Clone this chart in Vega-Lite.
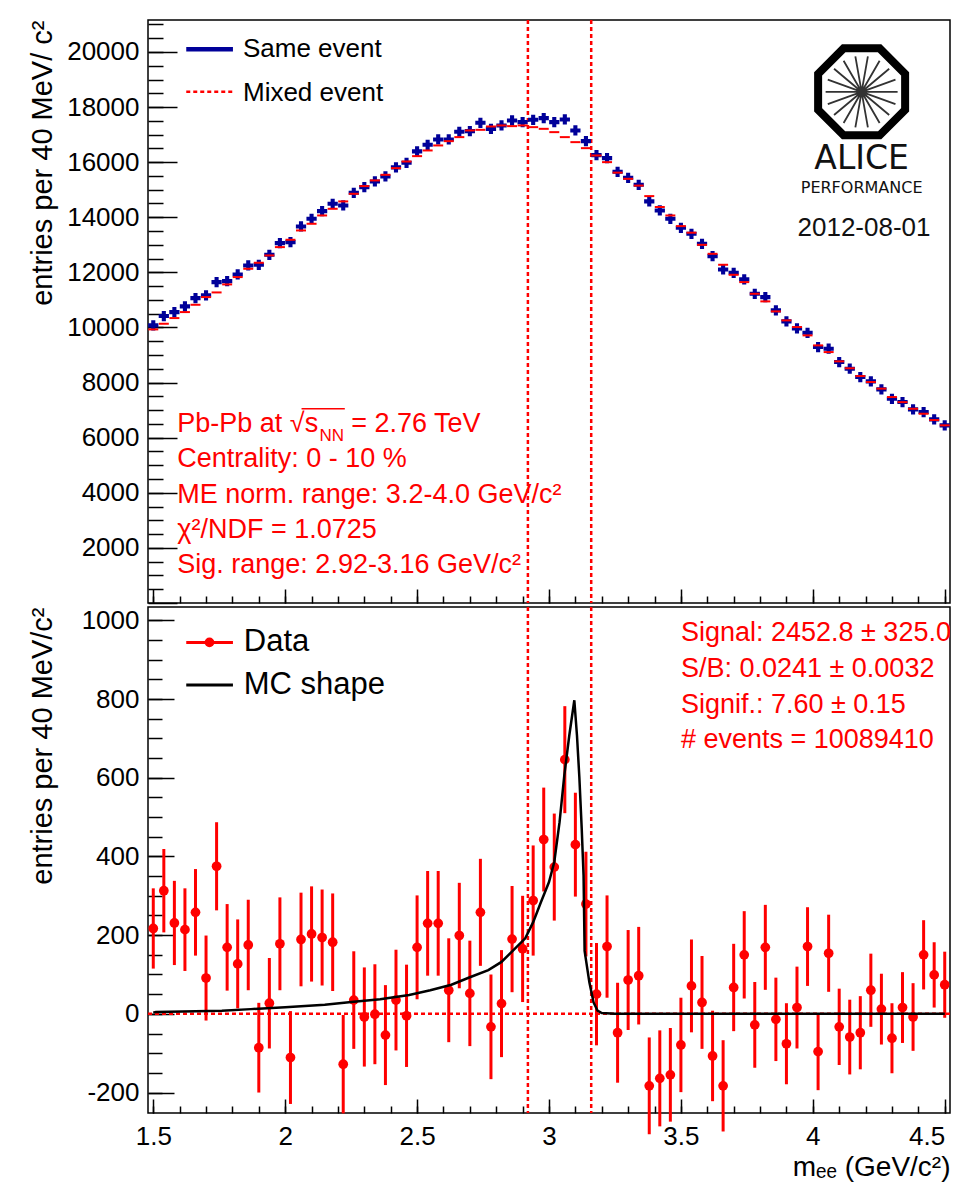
{
  "$schema": "https://vega.github.io/schema/vega-lite/v6.json",
  "background": "white",
  "padding": {"left": 27, "top": 18, "right": 0, "bottom": 4},
  "spacing": 0,
  "config": {
    "font": "Liberation Sans",
    "view": {"stroke": "#000", "strokeWidth": 1.5},
    "axis": {
      "grid": false, "domain": false,
      "labelFont": "Liberation Sans", "labelFontSize": 26, "labelColor": "#000",
      "titleFont": "Liberation Sans", "titleFontWeight": "normal", "titleColor": "#000",
      "tickColor": "#000", "tickWidth": 1.5
    },
    "text": {"font": "Liberation Sans", "fontWeight": "normal"}
  },
  "vconcat": [
    {
      "width": 802,
      "height": 583,
      "data": {"values": [
        {"m":1.50,"s":10075,"mx":9930},{"m":1.54,"s":10414,"mx":10135},{"m":1.58,"s":10559,"mx":10341},{"m":1.62,"s":10765,"mx":10559},
        {"m":1.66,"s":11067,"mx":10824},{"m":1.70,"s":11164,"mx":11103},{"m":1.74,"s":11647,"mx":11272},{"m":1.78,"s":11683,"mx":11563},
        {"m":1.82,"s":11925,"mx":11829},{"m":1.86,"s":12252,"mx":12131},{"m":1.90,"s":12276,"mx":12349},{"m":1.94,"s":12639,"mx":12615},
        {"m":1.98,"s":13062,"mx":12917},{"m":2.02,"s":13099,"mx":13183},{"m":2.06,"s":13667,"mx":13522},{"m":2.10,"s":13945,"mx":13764},
        {"m":2.14,"s":14224,"mx":14066},{"m":2.18,"s":14490,"mx":14308},{"m":2.22,"s":14430,"mx":14576},{"m":2.26,"s":14888,"mx":14852},
        {"m":2.30,"s":15094,"mx":15131},{"m":2.34,"s":15300,"mx":15337},{"m":2.38,"s":15482,"mx":15541},{"m":2.42,"s":15810,"mx":15783},
        {"m":2.46,"s":15977,"mx":16027},{"m":2.50,"s":16390,"mx":16219},{"m":2.54,"s":16630,"mx":16425},{"m":2.58,"s":16825,"mx":16607},
        {"m":2.62,"s":16825,"mx":16763},{"m":2.66,"s":17104,"mx":16909},{"m":2.70,"s":17126,"mx":17151},{"m":2.74,"s":17428,"mx":17174},
        {"m":2.78,"s":17210,"mx":17295},{"m":2.82,"s":17333,"mx":17333},{"m":2.86,"s":17514,"mx":17308},{"m":2.90,"s":17453,"mx":17333},
        {"m":2.94,"s":17537,"mx":17271},{"m":2.98,"s":17598,"mx":17210},{"m":3.02,"s":17453,"mx":17090},{"m":3.06,"s":17550,"mx":16909},
        {"m":3.10,"s":17151,"mx":16727},{"m":3.14,"s":16763,"mx":16509},{"m":3.18,"s":16255,"mx":16243},{"m":3.22,"s":16147,"mx":16001},
        {"m":3.26,"s":15650,"mx":15620},{"m":3.30,"s":15432,"mx":15396},{"m":3.34,"s":15178,"mx":15150},{"m":3.38,"s":14576,"mx":14768},
        {"m":3.42,"s":14248,"mx":14369},{"m":3.46,"s":13945,"mx":14066},{"m":3.50,"s":13618,"mx":13679},{"m":3.54,"s":13400,"mx":13440},
        {"m":3.58,"s":13038,"mx":13000},{"m":3.62,"s":12591,"mx":12674},{"m":3.66,"s":12107,"mx":12276},{"m":3.70,"s":11985,"mx":11912},
        {"m":3.74,"s":11745,"mx":11647},{"m":3.78,"s":11223,"mx":11223},{"m":3.82,"s":11103,"mx":10947},{"m":3.86,"s":10620,"mx":10584},
        {"m":3.90,"s":10221,"mx":10257},{"m":3.94,"s":9965,"mx":10015},{"m":3.98,"s":9808,"mx":9713},{"m":4.02,"s":9289,"mx":9350},
        {"m":4.06,"s":9229,"mx":9107},{"m":4.10,"s":8745,"mx":8770},{"m":4.14,"s":8503,"mx":8520},{"m":4.18,"s":8200,"mx":8237},
        {"m":4.22,"s":8044,"mx":8020},{"m":4.26,"s":7754,"mx":7780},{"m":4.30,"s":7413,"mx":7475},{"m":4.34,"s":7293,"mx":7290},
        {"m":4.38,"s":7028,"mx":7050},{"m":4.42,"s":6930,"mx":6869},{"m":4.46,"s":6665,"mx":6640},{"m":4.50,"s":6448,"mx":6448}
      ]},
      "resolve": {"axis": {"x": "independent", "y": "independent"}},
      "layer": [
        {
          "data": {"values": [{}]},
          "mark": {"type": "rule", "color": "#ff0000", "strokeWidth": 2.5, "strokeDash": [4, 3]},
          "encoding": {"x": {"datum": 2.92, "type": "quantitative", "scale": {"domain": [1.48, 4.52], "nice": false, "zero": false}, "axis": null}}
        },
        {
          "data": {"values": [{}]},
          "mark": {"type": "rule", "color": "#ff0000", "strokeWidth": 2.5, "strokeDash": [4, 3]},
          "encoding": {"x": {"datum": 3.16, "type": "quantitative", "axis": null}}
        },
        {
          "mark": {"type": "point", "shape": "cross", "filled": true, "size": 105, "color": "#000099", "opacity": 1},
          "encoding": {
            "x": {"field": "m", "type": "quantitative", "scale": {"domain": [1.48, 4.52], "nice": false, "zero": false},
                  "axis": {"orient": "bottom", "values": [1.5,2,2.5,3,3.5,4,4.5], "labels": false, "tickSize": -14, "title": null, "minExtent": 0, "maxExtent": 0}},
            "y": {"field": "s", "type": "quantitative", "scale": {"domain": [0, 21160], "nice": false, "zero": false},
                  "axis": {"orient": "left", "values": [2000,4000,6000,8000,10000,12000,14000,16000,18000,20000], "ticks": false, "labelPadding": 9,
                           "labelExpr": "'' + datum.value", "title": "entries per 40 MeV/ c²", "titleFontSize": 29, "titleAnchor": "end",
                           "titlePadding": 10, "minExtent": 81, "maxExtent": 81}}
          }
        },
        {
          "mark": {"type": "tick", "orient": "horizontal", "size": 10, "thickness": 2, "color": "#ff0000", "opacity": 1},
          "encoding": {
            "x": {"field": "m", "type": "quantitative",
                  "axis": {"orient": "bottom", "values": [1.5,1.6,1.7,1.8,1.9,2,2.1,2.2,2.3,2.4,2.5,2.6,2.7,2.8,2.9,3,3.1,3.2,3.3,3.4,3.5,3.6,3.7,3.8,3.9,4,4.1,4.2,4.3,4.4,4.5], "labels": false, "tickSize": -7, "title": null, "minExtent": 0, "maxExtent": 0}},
            "y": {"field": "mx", "type": "quantitative",
                  "axis": {"orient": "left", "values": [0,2000,4000,6000,8000,10000,12000,14000,16000,18000,20000], "labels": false, "tickSize": -29, "title": null, "minExtent": 0, "maxExtent": 0}}
          }
        },
        {
          "data": {"values": [{}]},
          "mark": {"type": "rule", "color": "#000099", "strokeWidth": 4.5},
          "encoding": {"x": {"datum": 1.625, "type": "quantitative", "axis": null}, "x2": {"datum": 1.802}, "y": {"datum": 20100, "type": "quantitative", "axis": null}}
        },
        {
          "data": {"values": [{}]},
          "mark": {"type": "text", "text": "Same event", "align": "left", "baseline": "middle", "fontSize": 26, "color": "#000"},
          "encoding": {"x": {"datum": 1.84, "type": "quantitative", "axis": null}, "y": {"datum": 20113, "type": "quantitative", "axis": null}}
        },
        {
          "data": {"values": [{}]},
          "mark": {"type": "rule", "color": "#ff0000", "strokeWidth": 2.5, "strokeDash": [4, 3]},
          "encoding": {"x": {"datum": 1.625, "type": "quantitative", "axis": null}, "x2": {"datum": 1.802}, "y": {"datum": 18560, "type": "quantitative", "axis": null}}
        },
        {
          "data": {"values": [{}]},
          "mark": {"type": "text", "text": "Mixed event", "align": "left", "baseline": "middle", "fontSize": 26, "color": "#000"},
          "encoding": {"x": {"datum": 1.84, "type": "quantitative", "axis": null}, "y": {"datum": 18523, "type": "quantitative", "axis": null}}
        },
        {
          "data": {"values": [{}]},
          "mark": {"type": "text", "text": "Pb-Pb at √s", "align": "left", "baseline": "middle", "fontSize": 27, "color": "#ff0000"},
          "encoding": {"x": {"datum": 1.591, "type": "quantitative", "axis": null},
                       "y": {"datum": 6495, "type": "quantitative",
                             "axis": {"orient": "left", "values": [500,1000,1500,2000,2500,3000,3500,4000,4500,5000,5500,6000,6500,7000,7500,8000,8500,9000,9500,10000,10500,11000,11500,12000,12500,13000,13500,14000,14500,15000,15500,16000,16500,17000,17500,18000,18500,19000,19500,20000,20500,21000], "labels": false, "tickSize": -15, "title": null, "minExtent": 0, "maxExtent": 0}}}
        },
        {
          "data": {"values": [{}]},
          "mark": {"type": "rule", "color": "#ff0000", "strokeWidth": 1.5},
          "encoding": {"x": {"datum": 2.062, "type": "quantitative", "axis": null}, "x2": {"datum": 2.226}, "y": {"datum": 7050, "type": "quantitative", "axis": null}}
        },
        {
          "data": {"values": [{}]},
          "mark": {"type": "text", "text": "NN", "align": "left", "baseline": "middle", "fontSize": 17, "color": "#ff0000"},
          "encoding": {"x": {"datum": 2.13, "type": "quantitative", "axis": null}, "y": {"datum": 6060, "type": "quantitative", "axis": null}}
        },
        {
          "data": {"values": [{}]},
          "mark": {"type": "text", "text": "= 2.76 TeV", "align": "left", "baseline": "middle", "fontSize": 27, "color": "#ff0000"},
          "encoding": {"x": {"datum": 2.25, "type": "quantitative", "axis": null}, "y": {"datum": 6495, "type": "quantitative", "axis": null}}
        },
        {
          "data": {"values": [{}]},
          "mark": {"type": "text", "text": "Centrality: 0 - 10 %", "align": "left", "baseline": "middle", "fontSize": 27, "color": "#ff0000"},
          "encoding": {"x": {"datum": 1.591, "type": "quantitative", "axis": null}, "y": {"datum": 5225, "type": "quantitative", "axis": null}}
        },
        {
          "data": {"values": [{}]},
          "mark": {"type": "text", "text": "ME norm. range: 3.2-4.0 GeV/c²", "align": "left", "baseline": "middle", "fontSize": 27, "color": "#ff0000"},
          "encoding": {"x": {"datum": 1.591, "type": "quantitative", "axis": null}, "y": {"datum": 3919, "type": "quantitative", "axis": null}}
        },
        {
          "data": {"values": [{}]},
          "mark": {"type": "text", "text": "χ²/NDF = 1.0725", "align": "left", "baseline": "middle", "fontSize": 27, "color": "#ff0000"},
          "encoding": {"x": {"datum": 1.591, "type": "quantitative", "axis": null}, "y": {"datum": 2667, "type": "quantitative", "axis": null}}
        },
        {
          "data": {"values": [{}]},
          "mark": {"type": "text", "text": "Sig. range: 2.92-3.16 GeV/c²", "align": "left", "baseline": "middle", "fontSize": 27, "color": "#ff0000"},
          "encoding": {"x": {"datum": 1.591, "type": "quantitative", "axis": null}, "y": {"datum": 1379, "type": "quantitative", "axis": null}}
        },
        {
          "data": {"values": [{}]},
          "mark": {"type": "point", "shape": "M-0.414,-1L0.414,-1L1,-0.414L1,0.414L0.414,1L-0.414,1L-1,0.414L-1,-0.414Z", "size": 7569, "filled": false, "stroke": "#000", "strokeWidth": 8, "opacity": 1},
          "encoding": {"x": {"datum": 4.185, "type": "quantitative", "axis": null}, "y": {"datum": 18552, "type": "quantitative", "axis": null}}
        },
        {
          "data": {"values": [{}]},
          "mark": {"type": "point", "shape": "M1,0L-1,0M0.94,0.342L-0.94,-0.342M0.766,0.643L-0.766,-0.643M0.5,0.866L-0.5,-0.866M0.174,0.985L-0.174,-0.985M-0.174,0.985L0.174,-0.985M-0.5,0.866L0.5,-0.866M-0.766,0.643L0.766,-0.643M-0.94,0.342L0.94,-0.342", "size": 5184, "filled": false, "stroke": "#333", "strokeWidth": 1.8, "opacity": 1},
          "encoding": {"x": {"datum": 4.185, "type": "quantitative", "axis": null}, "y": {"datum": 18552, "type": "quantitative", "axis": null}}
        },
        {
          "data": {"values": [{}]},
          "mark": {"type": "text", "text": "ALICE", "align": "center", "baseline": "middle", "font": "DejaVu Sans", "fontSize": 33, "color": "#111"},
          "encoding": {"x": {"datum": 4.185, "type": "quantitative", "axis": null}, "y": {"datum": 16122, "type": "quantitative", "axis": null}}
        },
        {
          "data": {"values": [{}]},
          "mark": {"type": "text", "text": "PERFORMANCE", "align": "center", "baseline": "middle", "font": "DejaVu Sans", "fontSize": 16, "color": "#111"},
          "encoding": {"x": {"datum": 4.185, "type": "quantitative", "axis": null}, "y": {"datum": 15058, "type": "quantitative", "axis": null}}
        },
        {
          "data": {"values": [{}]},
          "mark": {"type": "text", "text": "2012-08-01", "align": "center", "baseline": "middle", "fontSize": 26, "color": "#111"},
          "encoding": {"x": {"datum": 4.194, "type": "quantitative", "axis": null}, "y": {"datum": 13625, "type": "quantitative", "axis": null}}
        }
      ]
    },
    {
      "width": 802,
      "height": 506,
      "data": {"values": [
        {"m":1.50,"sig":217,"err":102},{"m":1.54,"sig":313,"err":106},{"m":1.58,"sig":231,"err":107},{"m":1.62,"sig":214,"err":105},
        {"m":1.66,"sig":258,"err":110},{"m":1.70,"sig":91,"err":108},{"m":1.74,"sig":375,"err":112},{"m":1.78,"sig":169,"err":110},
        {"m":1.82,"sig":127,"err":113},{"m":1.86,"sig":175,"err":115},{"m":1.90,"sig":-86,"err":114},{"m":1.94,"sig":27,"err":115},
        {"m":1.98,"sig":178,"err":118},{"m":2.02,"sig":-111,"err":118},{"m":2.06,"sig":189,"err":119},{"m":2.10,"sig":203,"err":121},
        {"m":2.14,"sig":194,"err":122},{"m":2.18,"sig":182,"err":124},{"m":2.22,"sig":-128,"err":125},{"m":2.26,"sig":35,"err":124},
        {"m":2.30,"sig":-8,"err":126},{"m":2.34,"sig":-1,"err":127},{"m":2.38,"sig":-54,"err":127},{"m":2.42,"sig":35,"err":128},
        {"m":2.46,"sig":-5,"err":130},{"m":2.50,"sig":169,"err":132},{"m":2.54,"sig":230,"err":133},{"m":2.58,"sig":230,"err":133},
        {"m":2.62,"sig":60,"err":132},{"m":2.66,"sig":199,"err":134},{"m":2.70,"sig":52,"err":134},{"m":2.74,"sig":258,"err":136},
        {"m":2.78,"sig":-33,"err":133},{"m":2.82,"sig":26,"err":136},{"m":2.86,"sig":190,"err":135},{"m":2.90,"sig":165,"err":135},
        {"m":2.94,"sig":288,"err":140},{"m":2.98,"sig":443,"err":132},{"m":3.02,"sig":373,"err":136},{"m":3.06,"sig":646,"err":136},
        {"m":3.10,"sig":430,"err":132},{"m":3.14,"sig":279,"err":133},{"m":3.18,"sig":50,"err":130},{"m":3.22,"sig":171,"err":130},
        {"m":3.26,"sig":-48,"err":127},{"m":3.30,"sig":86,"err":127},{"m":3.34,"sig":97,"err":124},{"m":3.38,"sig":-183,"err":123},
        {"m":3.42,"sig":-164,"err":122},{"m":3.46,"sig":-155,"err":119},{"m":3.50,"sig":-79,"err":120},{"m":3.54,"sig":71,"err":118},
        {"m":3.58,"sig":29,"err":118},{"m":3.62,"sig":-107,"err":115},{"m":3.66,"sig":-183,"err":116},{"m":3.70,"sig":67,"err":111},
        {"m":3.74,"sig":150,"err":111},{"m":3.78,"sig":-28,"err":109},{"m":3.82,"sig":169,"err":108},{"m":3.86,"sig":-14,"err":106},
        {"m":3.90,"sig":-76,"err":103},{"m":3.94,"sig":16,"err":104},{"m":3.98,"sig":171,"err":100},{"m":4.02,"sig":-96,"err":98},
        {"m":4.06,"sig":154,"err":98},{"m":4.10,"sig":-33,"err":97},{"m":4.14,"sig":-59,"err":95},{"m":4.18,"sig":-48,"err":93},
        {"m":4.22,"sig":60,"err":93},{"m":4.26,"sig":12,"err":90},{"m":4.30,"sig":-62,"err":89},{"m":4.34,"sig":16,"err":90},
        {"m":4.38,"sig":-8,"err":86},{"m":4.42,"sig":150,"err":88},{"m":4.46,"sig":99,"err":83},{"m":4.50,"sig":74,"err":84}
      ]},
      "resolve": {"axis": {"x": "independent", "y": "independent"}},
      "layer": [
        {
          "data": {"values": [{}]},
          "mark": {"type": "rule", "color": "#ff0000", "strokeWidth": 2.5, "strokeDash": [4, 3]},
          "encoding": {"y": {"datum": 0, "type": "quantitative", "scale": {"domain": [-252, 1034], "nice": false, "zero": false},
                             "axis": {"orient": "left", "values": [-200,-150,-100,-50,0,50,100,150,200,250,300,350,400,450,500,550,600,650,700,750,800,850,900,950,1000], "labels": false, "tickSize": -14, "title": null, "minExtent": 0, "maxExtent": 0}}}
        },
        {
          "data": {"values": [{}]},
          "mark": {"type": "rule", "color": "#ff0000", "strokeWidth": 2.5, "strokeDash": [4, 3]},
          "encoding": {"x": {"datum": 2.92, "type": "quantitative", "scale": {"domain": [1.48, 4.52], "nice": false, "zero": false},
                             "axis": {"orient": "bottom", "values": [1.5,1.6,1.7,1.8,1.9,2,2.1,2.2,2.3,2.4,2.5,2.6,2.7,2.8,2.9,3,3.1,3.2,3.3,3.4,3.5,3.6,3.7,3.8,3.9,4,4.1,4.2,4.3,4.4,4.5], "labels": false, "tickSize": -7, "title": null, "minExtent": 0, "maxExtent": 0}}}
        },
        {
          "data": {"values": [{}]},
          "mark": {"type": "rule", "color": "#ff0000", "strokeWidth": 2.5, "strokeDash": [4, 3]},
          "encoding": {"x": {"datum": 3.16, "type": "quantitative", "axis": null}}
        },
        {
          "mark": {"type": "errorbar", "color": "#ff0000", "thickness": 3},
          "encoding": {
            "x": {"field": "m", "type": "quantitative", "axis": null},
            "y": {"field": "sig", "type": "quantitative", "axis": null},
            "yError": {"field": "err"}
          }
        },
        {
          "mark": {"type": "circle", "color": "#ff0000", "size": 95, "opacity": 1},
          "encoding": {
            "x": {"field": "m", "type": "quantitative", "scale": {"domain": [1.48, 4.52], "nice": false, "zero": false},
                  "axis": {"orient": "bottom", "values": [1.5,2,2.5,3,3.5,4,4.5], "ticks": false, "labelPadding": 10, "labelFlush": false,
                           "labelExpr": "'' + datum.value",
                           "labelAlign": {"condition": {"test": "datum.value > 4.4", "value": "right"}, "value": "center"},
                           "title": "mₑₑ (GeV/c²)", "titleFontSize": 28, "titleAnchor": "end", "titlePadding": 4}},
            "y": {"field": "sig", "type": "quantitative", "scale": {"domain": [-252, 1034], "nice": false, "zero": false},
                  "axis": {"orient": "left", "values": [-200,0,200,400,600,800,1000], "ticks": false, "labelPadding": 9,
                           "labelExpr": "'' + datum.value", "title": "entries per 40 MeV/c²", "titleFontSize": 29, "titleAnchor": "end",
                           "titlePadding": 10, "minExtent": 81, "maxExtent": 81}}
          }
        },
        {
          "data": {"values": [
            {"m":1.50,"mc":3},{"m":1.51,"mc":5},{"m":1.76,"mc":8},{"m":1.87,"mc":12},{"m":2.00,"mc":17},{"m":2.15,"mc":23},
            {"m":2.26,"mc":31},{"m":2.36,"mc":37},{"m":2.47,"mc":48},{"m":2.55,"mc":60},{"m":2.63,"mc":74},{"m":2.70,"mc":93},
            {"m":2.77,"mc":111},{"m":2.82,"mc":132},{"m":2.87,"mc":165},{"m":2.91,"mc":192},{"m":2.94,"mc":233},{"m":2.97,"mc":285},
            {"m":3.00,"mc":335},{"m":3.02,"mc":386},{"m":3.04,"mc":487},{"m":3.058,"mc":606},{"m":3.077,"mc":708},{"m":3.096,"mc":797},
            {"m":3.106,"mc":708},{"m":3.115,"mc":602},{"m":3.124,"mc":471},{"m":3.131,"mc":352},{"m":3.135,"mc":160},{"m":3.153,"mc":80},
            {"m":3.169,"mc":29},{"m":3.184,"mc":8},{"m":3.20,"mc":2},{"m":3.25,"mc":0},{"m":4.50,"mc":0}
          ]},
          "mark": {"type": "line", "color": "#000", "strokeWidth": 2.5},
          "encoding": {
            "x": {"field": "m", "type": "quantitative",
                  "axis": {"orient": "bottom", "values": [1.5,2,2.5,3,3.5,4,4.5], "labels": false, "tickSize": -14, "title": null, "minExtent": 0, "maxExtent": 0}},
            "y": {"field": "mc", "type": "quantitative",
                  "axis": {"orient": "left", "values": [-200,0,200,400,600,800,1000], "labels": false, "tickSize": -26, "title": null, "minExtent": 0, "maxExtent": 0}}
          }
        },
        {
          "data": {"values": [{}]},
          "mark": {"type": "rule", "color": "#ff0000", "strokeWidth": 3},
          "encoding": {"x": {"datum": 1.625, "type": "quantitative", "axis": null}, "x2": {"datum": 1.802}, "y": {"datum": 944, "type": "quantitative", "axis": null}}
        },
        {
          "data": {"values": [{}]},
          "mark": {"type": "circle", "color": "#ff0000", "size": 95, "opacity": 1},
          "encoding": {"x": {"datum": 1.713, "type": "quantitative", "axis": null}, "y": {"datum": 944, "type": "quantitative", "axis": null}}
        },
        {
          "data": {"values": [{}]},
          "mark": {"type": "text", "text": "Data", "align": "left", "baseline": "middle", "fontSize": 31, "color": "#000"},
          "encoding": {"x": {"datum": 1.843, "type": "quantitative", "axis": null}, "y": {"datum": 946, "type": "quantitative", "axis": null}}
        },
        {
          "data": {"values": [{}]},
          "mark": {"type": "rule", "color": "#000", "strokeWidth": 3},
          "encoding": {"x": {"datum": 1.625, "type": "quantitative", "axis": null}, "x2": {"datum": 1.802}, "y": {"datum": 836, "type": "quantitative", "axis": null}}
        },
        {
          "data": {"values": [{}]},
          "mark": {"type": "text", "text": "MC shape", "align": "left", "baseline": "middle", "fontSize": 31, "color": "#000"},
          "encoding": {"x": {"datum": 1.843, "type": "quantitative", "axis": null}, "y": {"datum": 836, "type": "quantitative", "axis": null}}
        },
        {
          "data": {"values": [{}]},
          "mark": {"type": "text", "text": "Signal: 2452.8 ± 325.0", "align": "left", "baseline": "middle", "fontSize": 27, "color": "#ff0000", "clip": true},
          "encoding": {"x": {"datum": 3.5, "type": "quantitative", "axis": null}, "y": {"datum": 968, "type": "quantitative", "axis": null}}
        },
        {
          "data": {"values": [{}]},
          "mark": {"type": "text", "text": "S/B: 0.0241 ± 0.0032", "align": "left", "baseline": "middle", "fontSize": 27, "color": "#ff0000"},
          "encoding": {"x": {"datum": 3.5, "type": "quantitative", "axis": null}, "y": {"datum": 877, "type": "quantitative", "axis": null}}
        },
        {
          "data": {"values": [{}]},
          "mark": {"type": "text", "text": "Signif.: 7.60 ± 0.15", "align": "left", "baseline": "middle", "fontSize": 27, "color": "#ff0000"},
          "encoding": {"x": {"datum": 3.5, "type": "quantitative", "axis": null}, "y": {"datum": 786, "type": "quantitative", "axis": null}}
        },
        {
          "data": {"values": [{}]},
          "mark": {"type": "text", "text": "# events = 10089410", "align": "left", "baseline": "middle", "fontSize": 27, "color": "#ff0000"},
          "encoding": {"x": {"datum": 3.5, "type": "quantitative", "axis": null}, "y": {"datum": 695, "type": "quantitative", "axis": null}}
        }
      ]
    }
  ]
}
